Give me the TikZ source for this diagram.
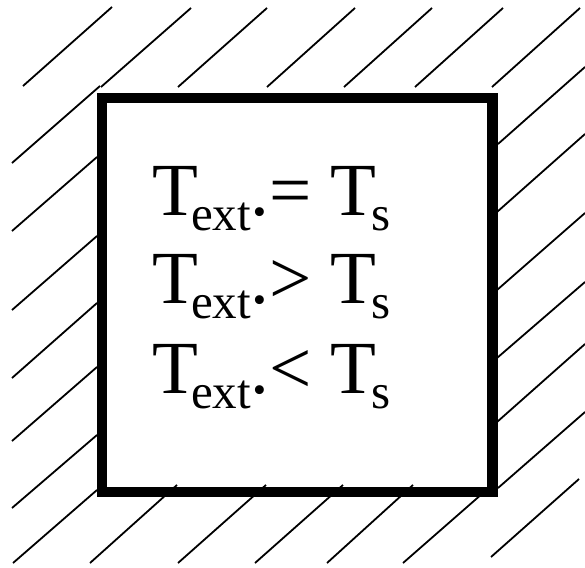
\documentclass[tikz,border=0pt]{standalone}
\usepackage{fontspec}
\setmainfont{Liberation Serif}
\newcommand{\subtxt}[1]{\raisebox{-15pt}{\fontsize{49}{49}\selectfont #1}}
\newcommand{\relrow}[1]{T\kern-7pt\subtxt{ext}.#1 T\kern-5pt\subtxt{s}}
\tikzset{
  hatch/.style={line width=1.8pt},
  wall/.style={line width=10.5pt, line join=miter},
  rowtext/.style={anchor=base west, inner sep=0pt, font=\fontsize{75}{75}\selectfont}
}
\begin{document}
\begin{tikzpicture}[x=1pt,y=-1pt]
\useasboundingbox (0,0) rectangle (585,567);
\foreach \a/\b/\c/\d in {
  23/86/112/7, 12/163/100/86, 101/87/191/8, 178/87/267/8, 267/87/355/8,
  344/87/432/8, 415/87/503/8, 492/87/580/8,
  498/144/585/67, 497/212/585/134, 497/290/585/213, 497/358/585/282,
  497/422/585/344, 498/488/585/412, 491/557/579/479,
  12/231/97/157, 12/310/97/236, 12/378/97/303, 12/441/97/367,
  12/508/97/435, 13/563/97/490,
  90/563/177/485, 178/563/266/485, 255/563/343/485, 327/563/413/485,
  403/563/491/486}
  \draw[hatch] (\a,\b) -- (\c,\d);
\draw[wall] (102,98) rectangle (492.5,492);
\node[rowtext] (eq) at (152,215) {\relrow{=}};
\node[rowtext] (gt) at (152,303) {\relrow{>}};
\node[rowtext] (lt) at (152,393) {\relrow{<}};
\end{tikzpicture}
\end{document}
